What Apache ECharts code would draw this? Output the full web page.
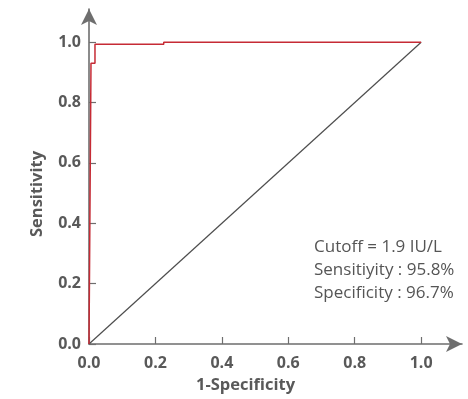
<!DOCTYPE html>
<html><head><meta charset="utf-8">
<script src="https://cdn.jsdelivr.net/npm/echarts@6/dist/echarts.min.js"></script>
<style>html,body{margin:0;padding:0;background:#fff}#c{width:468px;height:399px}</style>
</head><body><div id="c"></div>
<script>
// ROC curve points (1-Specificity, Sensitivity)
const rocX = [0, 0.006, 0.006, 0.018, 0.018, 0.225, 0.225, 1.0];
const rocY = [0, 0, 0.93, 0.93, 0.993, 0.993, 1.0, 1.0];
// reference diagonal
const diagX = [0, 1];
const diagY = [0, 1];
const tickValues = [0, 0.2, 0.4, 0.6, 0.8, 1.0];
const notes = ['Cutoff = 1.9 IU/L', 'Sensitiyity : 95.8%', 'Specificity : 96.7%'];

const zip = (a, b) => a.map((v, i) => [v, b[i]]);
const axisColor = '#6e6e6e';
const labelColor = '#595959';
const chart = echarts.init(document.getElementById('c'));
chart.setOption({
  animation: false,
  grid: { left: 89, top: 9, right: 6, bottom: 55, containLabel: false },
  xAxis: {
    type: 'value', min: 0, max: 1.123,
    name: '1-Specificity', nameLocation: 'middle', nameGap: 33,
    nameTextStyle: { fontFamily: 'Open Sans', fontWeight: 'bold', fontSize: 16.5, color: labelColor, padding: [0, 60, 0, 0] },
    axisLine: { lineStyle: { color: axisColor, width: 1.6 }, symbol: ['none', 'arrow'], symbolSize: [12, 16] },
    axisTick: { inside: true, length: 7, customValues: tickValues, lineStyle: { color: axisColor, width: 1.2 } },
    axisLabel: { customValues: tickValues, formatter: v => v.toFixed(1), margin: 11, fontFamily: 'Open Sans', fontWeight: 'bold', fontSize: 16, color: labelColor },
    splitLine: { show: false }
  },
  yAxis: {
    type: 'value', min: 0, max: 1.11,
    name: 'Sensitivity', nameLocation: 'middle', nameGap: 43, nameRotate: 90,
    nameTextStyle: { fontFamily: 'Open Sans', fontWeight: 'bold', fontSize: 16.5, color: labelColor, padding: [0, 35, 0, 0] },
    axisLine: { lineStyle: { color: axisColor, width: 1.6 }, symbol: ['none', 'arrow'], symbolSize: [12, 16] },
    axisTick: { inside: true, length: 7, customValues: tickValues, lineStyle: { color: axisColor, width: 1.2 } },
    axisLabel: { customValues: tickValues, formatter: v => v.toFixed(1), margin: 8, fontFamily: 'Open Sans', fontWeight: 'bold', fontSize: 16, color: labelColor },
    splitLine: { show: false }
  },
  graphic: [{
    type: 'text', left: 314, top: 236,
    style: { text: notes.join('\n'), fontFamily: 'Open Sans', fontSize: 17, lineHeight: 23, fill: '#555' }
  }],
  series: [
    { type: 'line', data: zip(diagX, diagY), symbol: 'none', lineStyle: { color: '#4d4d4d', width: 1.2 }, z: 2 },
    { type: 'line', data: zip(rocX, rocY), symbol: 'none', lineStyle: { color: '#c62b35', width: 1.5 }, z: 3 }
  ]
});
</script></body></html>
